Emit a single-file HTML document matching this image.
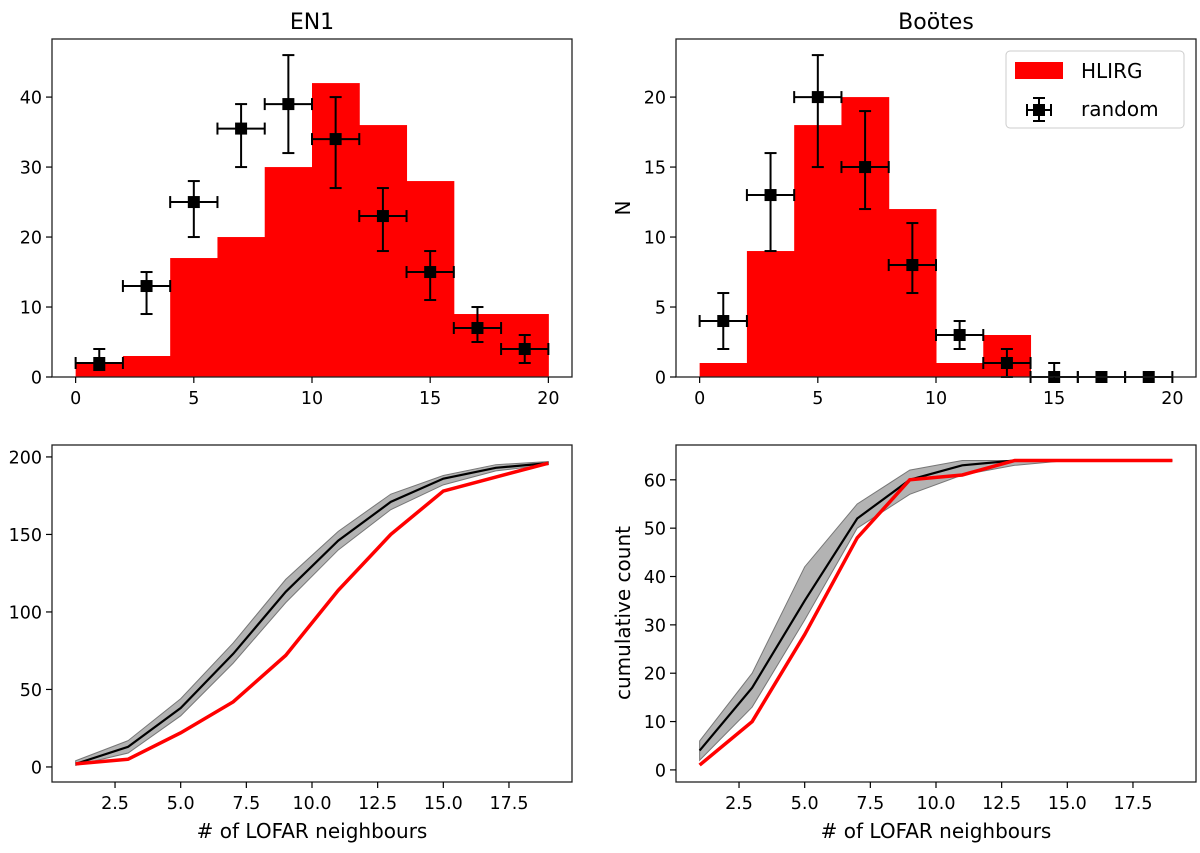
<!DOCTYPE html>
<html><head><meta charset="utf-8"><style>
body{margin:0;background:#fff}
svg text{font-family:"DejaVu Sans","Liberation Sans",sans-serif;fill:#000}
</style></head><body>
<svg id="c" width="1200" height="848" xmlns="http://www.w3.org/2000/svg"></svg>
<script>
const binEdges=[0,2,4,6,8,10,12,14,16,18,20];
const en1Hist=[2,3,17,20,30,42,36,28,9,9];
const bootesHist=[1,9,18,20,12,1,3,0,0,0];
const centers=[1,3,5,7,9,11,13,15,17,19];
const en1Rand=[2,13,25,35.5,39,34,23,15,7,4];
const en1Lo=[1,9,20,30,32,27,18,11,5,2];
const en1Hi=[4,15,28,39,46,40,27,18,10,6];
const bootesRand=[4,13,20,15,8,3,1,0,0,0];
const bootesLo=[2,9,15,12,6,2,0,0,0,0];
const bootesHi=[6,16,23,19,11,4,2,1,0,0];
const en1CumRed=[2,5,22,42,72,114,150,178,187,196];
const en1CumBlk=[2,13,38,73,113,146,171,186,193,196];
const en1CumLo=[1,9,33,67,106,140,166,182,191,195];
const en1CumHi=[4,17,44,80,121,152,176,188,195,197];
const bCumRed=[1,10,28,48,60,61,64,64,64,64];
const bCumBlk=[4,17,35,52,60,63,64,64,64,64];
const bCumLo=[2,13,31,50,57,61,63,64,64,64];
const bCumHi=[6,20,42,55,62,64,64,64,64,64];
const histTicks=[0,5,10,15,20];
const cumTicks=[2.5,5.0,7.5,10.0,12.5,15.0,17.5];

const svg=document.getElementById('c');
const NS='http://www.w3.org/2000/svg';
function mk(tag,attrs,parent,text){const e=document.createElementNS(NS,tag);for(const k in attrs)e.setAttribute(k,attrs[k]);if(text!==undefined)e.textContent=text;(parent||svg).appendChild(e);return e;}

function panel(name,box,xd,yd,xt,yt,fmtx){
  const g=mk('g',{});
  
  
  const [L,T,R,B]=box;
  const sx=v=>L+(v-xd[0])/(xd[1]-xd[0])*(R-L);
  const sy=v=>B-(v-yd[0])/(yd[1]-yd[0])*(B-T);
  return {g,sx,sy,L,T,R,B,draw(){
    mk('rect',{x:L,y:T,width:R-L,height:B-T,fill:'none',stroke:'#222','stroke-width':1.3},g);
    xt.forEach(v=>{const x=sx(v);mk('line',{x1:x,x2:x,y1:B,y2:B+6,stroke:'#000','stroke-width':1.2},g);
      const t=mk('text',{x:x,y:B+27,'text-anchor':'middle','font-size':17.5},g,fmtx?v.toFixed(1):v);
      });
    yt.forEach(v=>{const y=sy(v);mk('line',{x1:L,x2:L-6,y1:y,y2:y,stroke:'#000','stroke-width':1.2},g);
      const t=mk('text',{x:L-10,y:y+6.5,'text-anchor':'end','font-size':17.5},g,v);
      });
  }};
}

function histPanel(name,box,yd,yt,hist,rnd,lo,hi){
  const p=panel(name,box,[-1,21],yd,histTicks,yt,false);
  hist.forEach((h,i)=>{const x0=p.sx(binEdges[i]),x1=p.sx(binEdges[i+1]);
    if(h>0){const r=mk('rect',{x:x0,y:p.sy(h),width:x1-x0+0.5,height:p.sy(0)-p.sy(h),fill:'#ff0000'},p.g);
    }});
  rnd.forEach((v,i)=>{const x=p.sx(centers[i]),y=p.sy(v);
    const eg=mk('g',{stroke:'#000','stroke-width':2},p.g);
    
    const xa=p.sx(centers[i]-1),xb=p.sx(centers[i]+1),ya=p.sy(lo[i]),yb=p.sy(hi[i]);
    mk('line',{x1:xa,x2:xb,y1:y,y2:y},eg);mk('line',{x1:xa,x2:xa,y1:y-6,y2:y+6},eg);mk('line',{x1:xb,x2:xb,y1:y-6,y2:y+6},eg);
    mk('line',{x1:x,x2:x,y1:ya,y2:yb},eg);mk('line',{x1:x-6,x2:x+6,y1:ya,y2:ya},eg);mk('line',{x1:x-6,x2:x+6,y1:yb,y2:yb},eg);
    mk('rect',{x:x-6,y:y-6,width:12,height:12,fill:'#000',stroke:'none'},eg);});
  p.draw();return p;
}
function cumPanel(name,box,yd,yt,red,blk,lo,hi){
  const p=panel(name,box,[0.1,19.9],yd,cumTicks,yt,true);
  let d='';centers.forEach((c,i)=>d+=(i?'L':'M')+p.sx(c)+','+p.sy(hi[i]));
  for(let i=centers.length-1;i>=0;i--)d+='L'+p.sx(centers[i])+','+p.sy(lo[i]);
  const band=mk('path',{d:d+'Z',fill:'#999','fill-opacity':0.75,stroke:'#777','stroke-width':1},p.g);
  
  const line=(arr,col,w,n)=>{const pl=mk('polyline',{points:centers.map((c,i)=>p.sx(c)+','+p.sy(arr[i])).join(' '),fill:'none',stroke:col,'stroke-width':w},p.g);
    };
  line(blk,'#000',2.2,'random-cumulative-line');
  line(red,'#ff0000',3.5,'hlirg-cumulative-line');
  p.draw();return p;
}

histPanel('en1-histogram',[52,39,572,377],[0,48.3],[0,10,20,30,40],en1Hist,en1Rand,en1Lo,en1Hi);
histPanel('bootes-histogram',[676,39,1196,377],[0,24.15],[0,5,10,15,20],bootesHist,bootesRand,bootesLo,bootesHi);
cumPanel('en1-cumulative',[52,445,572,782],[-9.7,207.7],[0,50,100,150,200],en1CumRed,en1CumBlk,en1CumLo,en1CumHi);
cumPanel('bootes-cumulative',[676,445,1196,782],[-2.5,67.2],[0,10,20,30,40,50,60],bCumRed,bCumBlk,bCumLo,bCumHi);

function label(txt,attrs,n){const t=mk('text',attrs,svg,txt);}
label('EN1',{x:312,y:29,'text-anchor':'middle','font-size':22},'en1-title');
label('Boötes',{x:936,y:29,'text-anchor':'middle','font-size':22},'bootes-title');
label('N',{x:630,y:208,'text-anchor':'middle','font-size':20,transform:'rotate(-90 630 208)'},'y-axis-title-top');
label('cumulative count',{x:630,y:613,'text-anchor':'middle','font-size':20,transform:'rotate(-90 630 613)'},'y-axis-title-bottom');
label('# of LOFAR neighbours',{x:312,y:838,'text-anchor':'middle','font-size':20},'x-axis-title-left');
label('# of LOFAR neighbours',{x:936,y:838,'text-anchor':'middle','font-size':20},'x-axis-title-right');

const lg=mk('g',{});

mk('rect',{x:1006,y:51,width:178,height:77,rx:4,fill:'#fff',stroke:'#ccc'},lg);
mk('rect',{x:1015,y:62,width:48,height:17,fill:'#ff0000'},lg);
mk('text',{x:1081,y:78,'font-size':20},lg,'HLIRG');
const lm=mk('g',{stroke:'#000','stroke-width':2},lg);
mk('line',{x1:1027,x2:1051,y1:110,y2:110},lm);mk('line',{x1:1039,x2:1039,y1:98,y2:121},lm);
mk('line',{x1:1033,x2:1045,y1:98,y2:98},lm);mk('line',{x1:1033,x2:1045,y1:121,y2:121},lm);
mk('line',{x1:1027,x2:1027,y1:104,y2:116},lm);mk('line',{x1:1051,x2:1051,y1:104,y2:116},lm);
mk('rect',{x:1033,y:104,width:12,height:12,fill:'#000',stroke:'none'},lm);
mk('text',{x:1081,y:116,'font-size':20},lg,'random');
</script>
</body></html>
